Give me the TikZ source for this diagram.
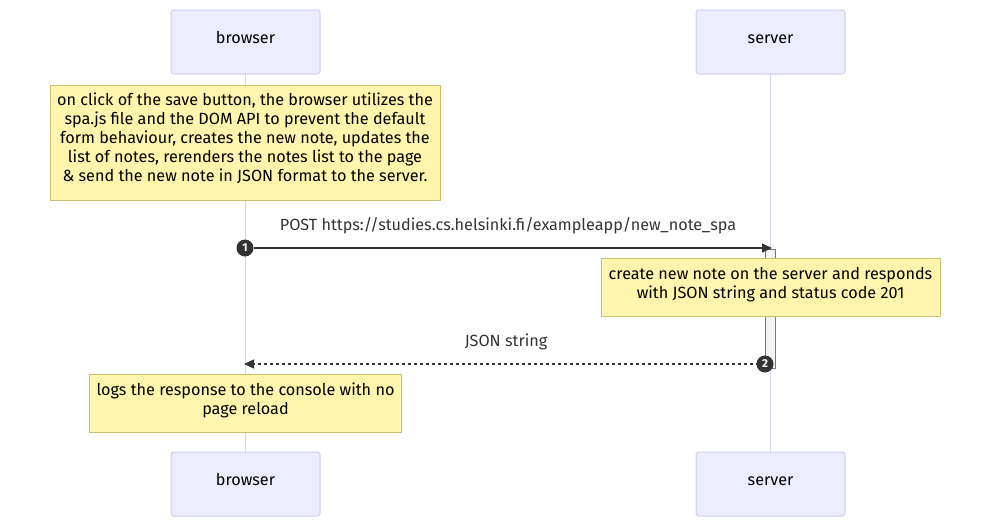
\documentclass[tikz,border=0pt]{standalone}
\usepackage{fontspec}
\setmainfont{Fira Sans}
\usetikzlibrary{arrows.meta}
\definecolor{actorfill}{HTML}{ECECFF}
\definecolor{actorline}{HTML}{CCCCF5}
\definecolor{lifeline}{HTML}{D6D6EC}
\definecolor{notefill}{HTML}{FFF5AD}
\definecolor{noteline}{HTML}{C8C070}
\definecolor{msgcol}{HTML}{333333}
\definecolor{actfill}{HTML}{F4F4F4}
\definecolor{actline}{HTML}{777777}
\newcommand\diagfont{\fontsize{16.2}{19}\selectfont}
\tikzset{
  actor/.style={draw=actorline, line width=1pt, fill=actorfill, rounded corners=3pt,
    minimum width=149pt, minimum height=64pt, inner sep=0pt, font=\diagfont, text=black,
    text height=11pt, text depth=8pt},
  notebox/.style={draw=noteline, line width=1pt, fill=notefill, align=center,
    inner sep=0pt, font=\diagfont, text=black},
  life/.style={draw=lifeline, line width=1.5pt},
  msgline/.style={draw=msgcol, line width=1.4pt, -{Triangle[length=10pt,width=9pt]}},
  msglabel/.style={font=\diagfont, text=msgcol, inner sep=0pt},
  seqnum/.style={circle, fill=msgcol, text=white, inner sep=0pt, minimum size=17pt,
    font=\fontsize{11.5}{11.5}\selectfont\bfseries},
  actbar/.style={draw=actline, line width=0.8pt, fill=actfill, minimum width=10pt,
    minimum height=119pt, inner sep=0pt}
}
\begin{document}
\begin{tikzpicture}[x=1pt,y=1pt]
\useasboundingbox (0,0) rectangle (990,-528);
% actors
\node[actor] (bt) at (245.5,-42) {browser};
\node[actor] (st) at (770.5,-42) {server};
\node[actor] (bb) at (245.5,-484) {browser};
\node[actor] (sb) at (770.5,-484) {server};
% lifelines
\draw[life] (bt.south) -- (bb.north);
\draw[life] (st.south) -- (sb.north);
% activation
\node[actbar] (act) at (770,-308.5) {};
% notes
\node[notebox, minimum width=390pt, minimum height=115pt, text depth=10pt] (n1) at (245,-142.5)
  {on click of the save button, the browser utilizes the\\
   spa.js file and the DOM API to prevent the default\\
   form behaviour, creates the new note, updates the\\
   list of notes, rerenders the notes list to the page\\
   \& send the new note in JSON format to the server.};
\node[notebox, minimum width=339pt, minimum height=58pt, text depth=9pt] (n2) at (770.5,-287)
  {create new note on the server and responds\\
   with JSON string and status code 201};
\node[notebox, minimum width=312pt, minimum height=58pt, text depth=9pt] (n3) at (245.5,-403)
  {logs the response to the console with no\\
   page reload};
% message 1
\coordinate (s1) at (772,-248);
\node[seqnum] (m1) at (245,-248) {1};
\draw[msgline] (m1) -- (s1);
\node[msglabel] (l1) at (508,-226) {POST https://studies.cs.helsinki.fi/exampleapp/new\_note\_spa};
% message 2
\coordinate (b2) at (244,-364);
\draw[msgline, dash pattern=on 3pt off 3pt] (765,-364) -- (b2);
\node[seqnum] (m2) at (765,-364) {2};
\node[msglabel] (l2) at (506,-342) {JSON string};
\end{tikzpicture}
\end{document}
